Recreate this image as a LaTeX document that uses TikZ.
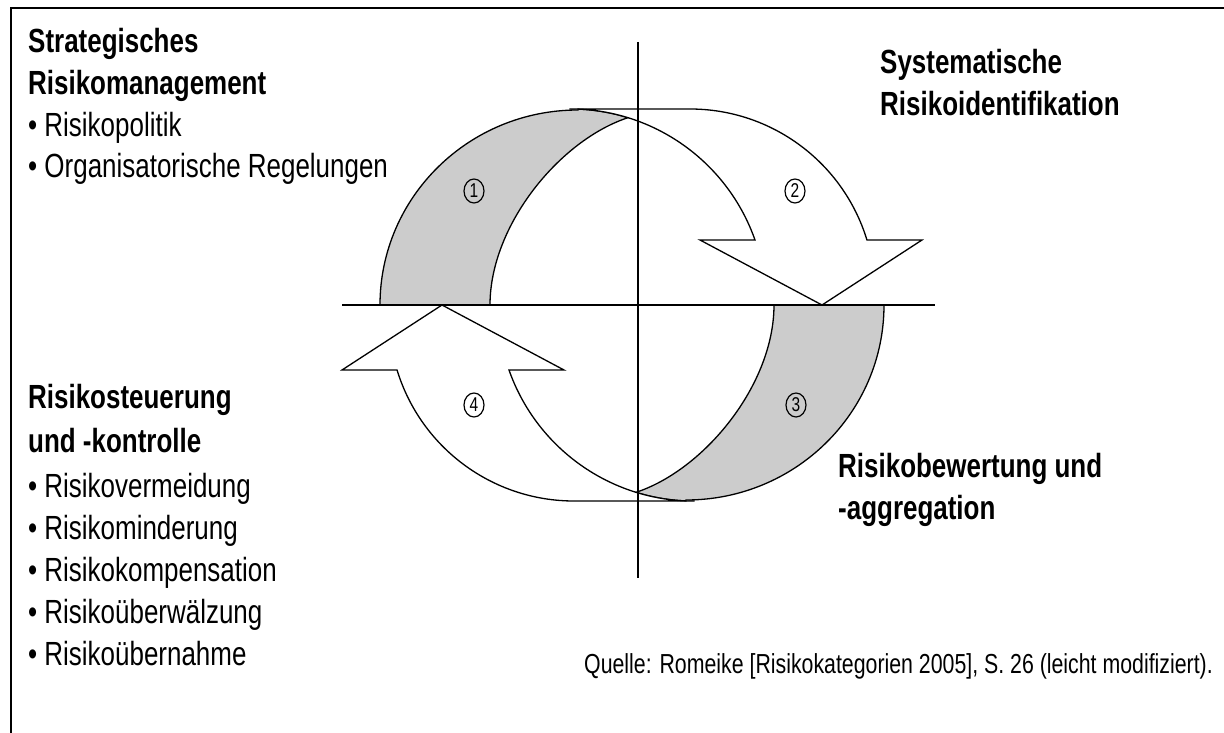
\documentclass[tikz,border=0pt]{standalone}
\usepackage{fontspec}
\setmainfont{Liberation Sans}[FakeStretch=0.775]
\usetikzlibrary{shapes.geometric}
\begin{document}
\begin{tikzpicture}[x=1pt,y=1pt,
  outline/.style={draw=black, line width=1.3pt, line join=miter},
  crescent/.style={outline, fill=gray!40},
  bodyarrow/.style={outline, fill=white},
  axisline/.style={draw=black, line width=1.6pt},
  frameline/.style={draw=black, line width=2pt},
  txt/.style={anchor=base west, inner sep=0pt, font=\fontsize{33.5}{38}\selectfont},
  hd/.style={anchor=base west, inner sep=0pt, font=\fontsize{33.5}{38}\selectfont\bfseries},
  src/.style={anchor=base east, inner sep=0pt, font=\fontsize{27.5}{32}\selectfont},
  num/.style={ellipse, draw, line width=1.2pt, inner sep=0pt,
    minimum width=20pt, minimum height=24pt, font=\fontsize{20}{20}\selectfont},
  halfcycle/.pic={
    % shaded segment rising to the top
    \path[crescent] (380,-305)
      arc[start angle=180, end angle=90, x radius=198, y radius=195]
      -- (578,-109.08)
      arc[start angle=87.66, end angle=72.8, radius=196.08]
      .. controls (560,-140) and (490,-225) .. (490,-305) -- cycle;
    % white curved arrow pointing down onto the axis
    \path[bodyarrow] (570,-109) -- (690,-109)
      arc[start angle=90, end angle=17, radius=185]
      -- (922,-240) -- (822,-305) -- (700,-240) -- (755,-240)
      arc[start angle=19.36, end angle=90, radius=196.08] -- cycle;
  }
]
\useasboundingbox (0,0) rectangle (1224,-733);

% frame
\draw[frameline] (10.5,-733) -- (10.5,-8.5) -- (1224,-8.5);

% the cycle: two halves, the second turned by 180 degrees
\pic at (0,0) {halfcycle};
\pic[rotate=180] at (1264,-610) {halfcycle};

% axes
\coordinate (vtop) at (638,-42);
\coordinate (vbot) at (638,-578);
\coordinate (hleft) at (342,-305);
\coordinate (hright) at (935,-305);
\draw[axisline] (vtop) -- (vbot);
\draw[axisline] (hleft) -- (hright);

% step numbers
\node[num] (n1) at (474,-191) {1};
\node[num] (n2) at (795,-191) {2};
\node[num] (n3) at (796,-405) {3};
\node[num] (n4) at (474,-405) {4};

% upper left
\node[hd]  (s1) at (28,-53)  {Strategisches};
\node[hd]  (s2) at (28,-95)  {Risikomanagement};
\node[txt] (s3) at (28,-137) {• Risikopolitik};
\node[txt] (s4) at (28,-178) {• Organisatorische Regelungen};

% upper right
\node[hd] (r1) at (880,-74)  {Systematische};
\node[hd] (r2) at (880,-116) {Risikoidentifikation};

% lower right
\node[hd] (b1) at (838,-477) {Risikobewertung und};
\node[hd] (b2) at (838,-519) {-aggregation};

% lower left
\node[hd]  (k1) at (28,-408) {Risikosteuerung};
\node[hd]  (k2) at (28,-452) {und -kontrolle};
\node[txt] (k3) at (28,-497) {• Risikovermeidung};
\node[txt] (k4) at (28,-539) {• Risikominderung};
\node[txt] (k5) at (28,-581) {• Risikokompensation};
\node[txt] (k6) at (28,-623) {• Risikoüberwälzung};
\node[txt] (k7) at (28,-665) {• Risikoübernahme};

% source line
\node[src] (q) at (1213,-673) {Quelle: Romeike [Risikokategorien 2005], S. 26 (leicht modifiziert).};
\end{tikzpicture}
\end{document}
